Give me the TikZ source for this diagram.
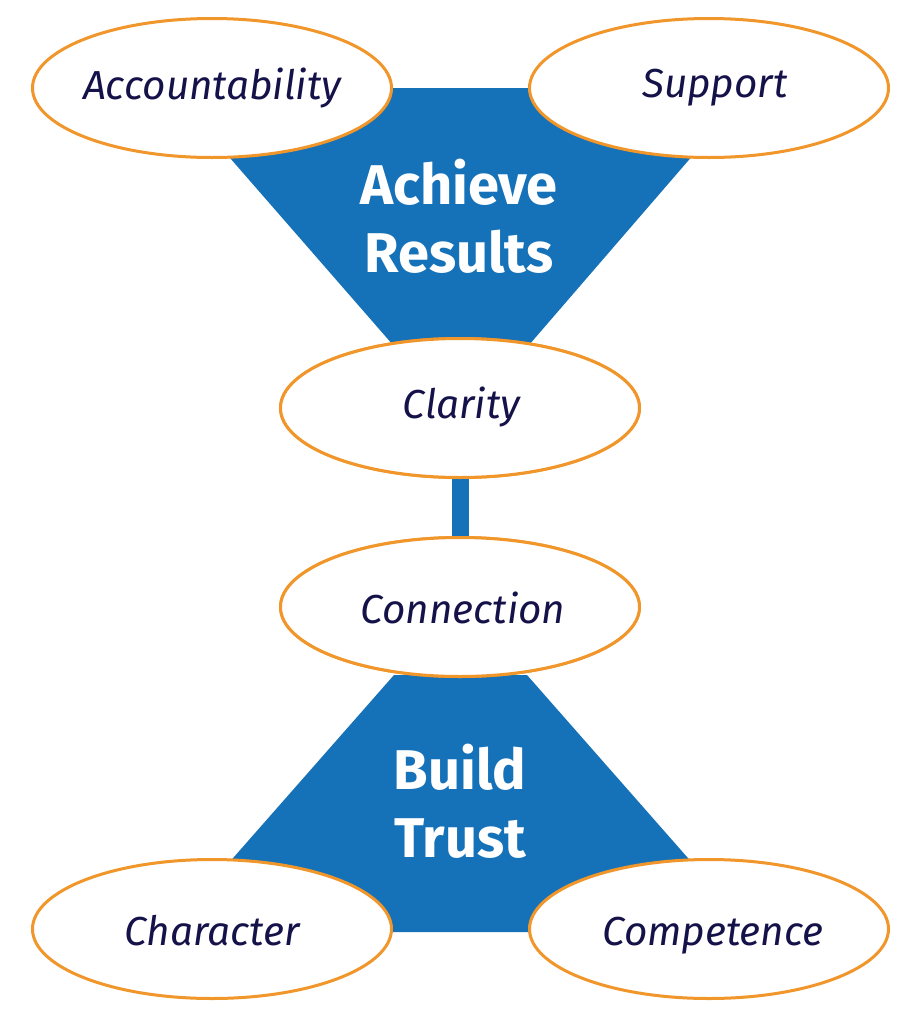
\documentclass[tikz,border=0pt]{standalone}
\usepackage{fontspec}
\setmainfont{Fira Sans}
\usetikzlibrary{shapes.geometric}
\definecolor{cblue}{HTML}{1672B8}
\definecolor{corange}{HTML}{F0962A}
\definecolor{cnavy}{HTML}{15124A}
\newcommand{\lbl}[3]{\raisebox{-#2pt}[0pt][0pt]{\makebox[0pt]{\hspace*{#1pt}#3}}}
\begin{document}
\begin{tikzpicture}[x=1pt,y=-1pt,
  oval/.style={draw=corange, line width=3pt, fill=white, ellipse, minimum width=359pt, minimum height=139pt, inner sep=0pt, text=cnavy, font=\fontsize{40.5}{46}\selectfont\itshape},
  title/.style={text=white, anchor=base, font=\fontsize{56}{64}\selectfont\bfseries}]
\useasboundingbox (0,0) rectangle (921,1023);
% top trapezoid
\fill[cblue] (169,88) -- (751,88) -- (529,345) -- (393,345) -- cycle;
% bottom trapezoid
\fill[cblue] (394,675) -- (527,675) -- (753,932) -- (168,932) -- cycle;
\node[oval] (cla) at (460,408) {\lbl{3}{10}{Clarity}};
\node[oval] (con) at (460,607) {\lbl{6}{16}{Connection}};
\draw[cblue, line width=17pt] (cla.south) -- (con.north);
\node[oval] at (cla.center) {\lbl{3}{10}{Clarity}};
\node[oval] at (con.center) {\lbl{6}{16}{Connection}};
\node[oval] (acc) at (212,88) {\lbl{0}{11}{Accountability}};
\node[oval] (sup) at (709,88) {\lbl{12}{9}{Support}};
\node[oval] (cha) at (212,929) {\lbl{0}{16}{Character}};
\node[oval] (com) at (709,929) {\lbl{8}{16}{Competence}};
\node[title] (ach1) at (459,204) {Achieve};
\node[title] (ach2) at (459,272) {Results};
\node[title] (bt1) at (460,789) {Build};
\node[title] (bt2) at (460,857) {Trust};
\end{tikzpicture}
\end{document}
